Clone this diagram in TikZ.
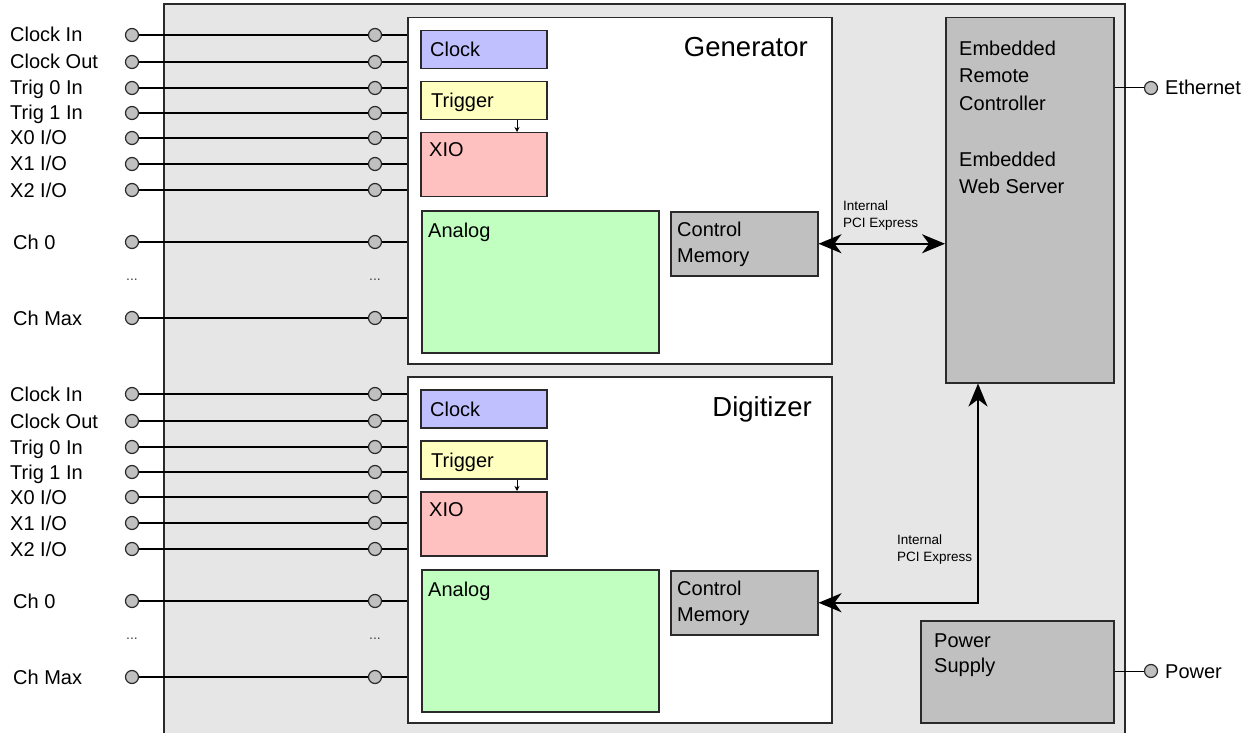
\documentclass[tikz,border=0pt]{standalone}
\usepackage{fontspec}
\setmainfont{Liberation Sans}
\usetikzlibrary{arrows.meta,calc}
\definecolor{chassisfill}{HTML}{E6E6E6}
\definecolor{boxline}{HTML}{2A2A2A}
\definecolor{grayfill}{HTML}{C0C0C0}
\definecolor{clockfill}{HTML}{C0C0FF}
\definecolor{trigfill}{HTML}{FFFFC0}
\definecolor{xiofill}{HTML}{FFC0C0}
\definecolor{analogfill}{HTML}{C0FFC0}
\definecolor{pinfill}{HTML}{C0C0C0}
\newcommand{\blk}[6]{\node[box,#6,minimum width={(#4-#2)*1pt},minimum height={(#5-#3)*1pt}] (#1) at (#2,#3) {};}
\begin{document}
\begin{tikzpicture}[x=1pt,y=-1pt,
  box/.style={draw=boxline,line width=1.5pt,inner sep=0pt,anchor=north west},
  pin/.style={circle,draw=boxline,fill=pinfill,line width=1.2pt,minimum size=13pt,inner sep=0pt},
  wire/.style={draw=black,line width=1.2pt},
  lbl/.style={font=\fontsize{20}{24}\selectfont,inner sep=0pt,anchor=base west},
  title/.style={font=\fontsize{27.5}{32}\selectfont,inner sep=0pt,anchor=base east},
  multi/.style={font=\fontsize{20}{#1}\selectfont,inner sep=0pt,anchor=north west,align=left},
  small/.style={font=\fontsize{13.5}{17}\selectfont,inner sep=0pt,anchor=north west,align=left},
  dots/.style={font=\fontsize{14}{16}\selectfont,inner sep=0pt,text=black!75},
  pci/.style={line width=1.8pt,{Stealth[length=23pt,width=19pt,inset=7pt]}-{Stealth[length=23pt,width=19pt,inset=7pt]}},
  tarr/.style={line width=0.8pt,-{Stealth[length=5pt,width=5pt]}}
]
\useasboundingbox (0,0) rectangle (1251,733);
% chassis
\fill[chassisfill] (164,4) rectangle (1125,733);
\draw[boxline,line width=1.5pt] (164,733) -- (164,4) -- (1125,4) -- (1125,733);

% Generator
\blk{gen}{407}{17}{831}{363}{fill=white}
\node[title] (gentitle) at (808,57) {Generator};
\blk{gclk}{420}{30}{546}{68}{fill=clockfill}
\node[lbl] (gclkt) at (430,57) {Clock};
\blk{gtrig}{420}{81}{546}{119}{fill=trigfill}
\node[lbl] (gtrigt) at (431,108) {Trigger};
\blk{gxio}{420}{132}{546}{196}{fill=xiofill}
\node[lbl] (gxiot) at (429,157) {XIO};
\draw[tarr] ($(gtrig.south west)+(97,0)$) -- ($(gxio.north west)+(97,0)$);
\blk{gan}{421}{210}{658}{352}{fill=analogfill}
\node[lbl] (gant) at (428,237) {Analog};
\blk{gcm}{670}{211}{817}{275}{fill=grayfill}
\node[multi=25.3] (gcmt) at (677,222.3) {Control\\Memory};

% Digitizer
\blk{dig}{407}{376}{831}{722}{fill=white}
\node[title] (digtitle) at (812,416) {Digitizer};
\blk{dclk}{420}{389}{546}{427}{fill=clockfill}
\node[lbl] (dclkt) at (430,416) {Clock};
\blk{dtrig}{420}{440}{546}{478}{fill=trigfill}
\node[lbl] (dtrigt) at (431,467) {Trigger};
\blk{dxio}{420}{491}{546}{555}{fill=xiofill}
\node[lbl] (dxiot) at (429,516) {XIO};
\draw[tarr] ($(dtrig.south west)+(97,0)$) -- ($(dxio.north west)+(97,0)$);
\blk{dan}{421}{569}{658}{711}{fill=analogfill}
\node[lbl] (dant) at (428,596) {Analog};
\blk{dcm}{670}{570}{817}{634}{fill=grayfill}
\node[multi=25.3] (dcmt) at (677,581.3) {Control\\Memory};

% Embedded controller
\blk{emb}{945}{17}{1113}{382}{fill=grayfill}
\node[multi=27.7] (embt) at (959,40.6) {Embedded\\Remote\\Controller\\[27.7pt]Embedded\\Web Server};
\node[pin] (eth) at (1151,88) {};
\draw[black,line width=1pt] (emb.east |- eth) -- (eth);
\node[lbl] (etht) at (1165,95) {Ethernet};

% Power supply
\blk{psu}{920}{620}{1113}{722}{fill=grayfill}
\node[multi=25] (psut) at (934,633.6) {Power\\Supply};
\node[pin] (pwr) at (1151,671) {};
\draw[black,line width=1pt] (psu.east |- pwr) -- (pwr);
\node[lbl] (pwrt) at (1165,678) {Power};

% PCI Express
\draw[pci] (gcm.east) -- (gcm.east -| emb.west);
\node[small] (gpcit) at (843,200.3) {Internal\\PCI Express};
\coordinate (embin) at ($(emb.south west)+(33,0)$);
\draw[pci] (dcm.east) -| (embin);
\node[small] (dpcit) at (897,534.3) {Internal\\PCI Express};

% pins
\foreach \off/\s/\bx in {0/g/gen,359/d/dig}{
  \foreach \y [count=\i] in {35,62,88,113,138,164,190,242,318}{
    \node[pin] (\s L\i) at (132,\y+\off) {};
    \node[pin] (\s R\i) at (375,\y+\off) {};
    \draw[wire] (\s L\i) -- (\s R\i);
    \draw[wire] (\s R\i) -- (\s R\i -| \bx.west);
  }
  \foreach \y/\t [count=\i] in {35/{Clock In},62/{Clock Out},88/{Trig 0 In},113/{Trig 1 In},138/{X0 I/O},164/{X1 I/O},190/{X2 I/O}}{
    \node[lbl] (\s T\i) at (10,\y+7+\off) {\t};
  }
  \node[lbl] (\s Tch0) at (13,249+\off) {Ch 0};
  \node[lbl] (\s Tchm) at (13,325+\off) {Ch Max};
  \node[dots] (\s DL) at (132,280+\off) {...};
  \node[dots] (\s DR) at (375,280+\off) {...};
}
\end{tikzpicture}
\end{document}
